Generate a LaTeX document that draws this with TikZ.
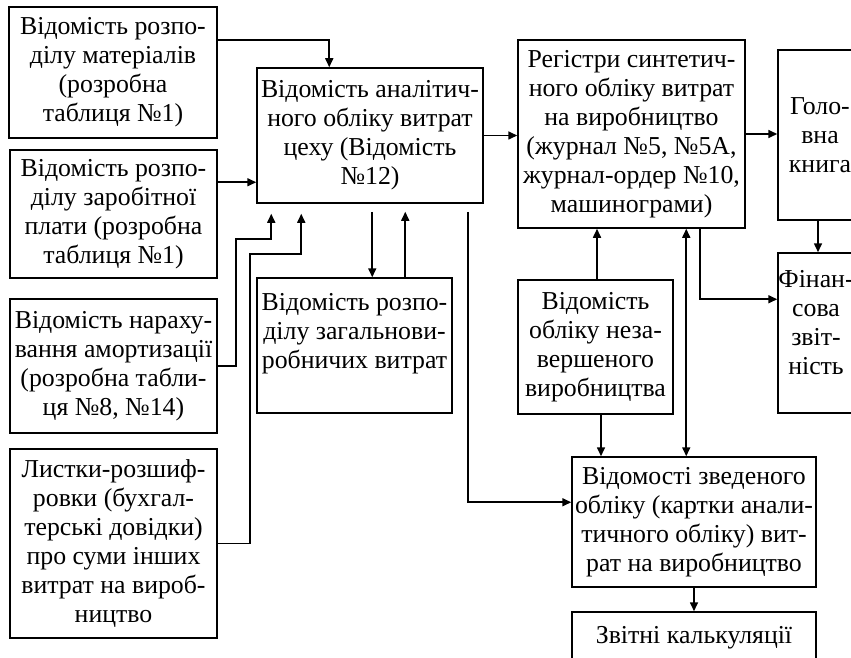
\documentclass[tikz,border=0pt]{standalone}
\usepackage{fontspec}
\setmainfont{Liberation Serif}
\usetikzlibrary{calc,arrows.meta}
\begin{document}
\begin{tikzpicture}[x=0.5pt,y=-0.5pt,
  box/.style={draw,line width=0.75pt,inner sep=0pt,align=center,
    font=\fontsize{12.9}{14.5}\selectfont},
  arr/.style={line width=0.8pt,-{Triangle[length=4.5pt,width=4pt]}},
  darr/.style={line width=0.8pt,{Triangle[length=4.5pt,width=4pt]}-{Triangle[length=4.5pt,width=4pt]}},
  ln/.style={line width=0.8pt}]
\useasboundingbox (0,0) rectangle (851,658);
\clip (0,0) rectangle (851,658);
% boxes
\node[box,minimum width=104pt,minimum height=65.5pt] (mat) at (113,72.5)
  {Відомість розпо-\\ділу матеріалів\\(розробна\\таблиця №1)};
\node[box,minimum width=103.5pt,minimum height=64pt] (wage) at (113.5,214)
  {Відомість розпо-\\ділу заробітної\\плати (розробна\\таблиця №1)};
\node[box,minimum width=103.5pt,minimum height=67pt] (amort) at (113.5,366)
  {Відомість нараху-\\вання амортизації\\(розробна табли-\\ця №8, №14)};
\node[box,minimum width=103.5pt,minimum height=94.5pt] (listky) at (113.5,543.5)
  {Листки-розшиф-\\ровки (бухгал-\\терські довідки)\\про суми інших\\витрат на вироб-\\ництво};
\node[box,minimum width=113pt,minimum height=67.5pt] (central) at (370,135.5)
  {Відомість аналітич-\\ного обліку витрат\\цеху (Відомість\\№12)};
\node[box,minimum width=97.5pt,minimum height=67.5pt] (zvr) at (354.5,345.5)
  {Відомість розпо-\\ділу загальнови-\\робничих витрат\\~};
\node[box,minimum width=113.5pt,minimum height=94pt] (reg) at (631.5,134)
  {Регістри синтетич-\\ного обліку витрат\\на виробництво\\(журнал №5, №5А,\\журнал-ордер №10,\\машинограми)};
\node[box,minimum width=42pt,minimum height=85pt] (gol) at (820,135)
  {Голо-\\вна\\книга};
\node[box,minimum width=38pt,minimum height=80pt] (fin) at (816,333)
  {Фінан-\\сова\\звіт-\\ність\\[-4pt]~};
\node[box,minimum width=77.5pt,minimum height=67pt] (nzv) at (595.5,347)
  {Відомість\\обліку неза-\\вершеного\\виробництва};
\node[box,minimum width=122pt,minimum height=65pt] (zved) at (694,522)
  {Відомості зведеного\\обліку (картки анали-\\тичного обліку) вит-\\рат на виробництво};
\node[box,minimum width=122pt,minimum height=26pt] (zvit) at (694,638)
  {Звітні калькуляції};
% connectors
\draw[arr] ($(mat.north east)+(0,34)$) -| ($(central.north west)+(73,0)$);
\draw[arr] ($(wage.north east)+(0,33)$) coordinate (w1) -- (w1 -| central.west);
\draw[arr] (amort.east) -- ++(18,0) |- ($(central.south west)+(15,35)$) -- ($(central.south west)+(15,10)$);
\draw[arr] (listky.east) -- ++(32,0) |- ($(central.south west)+(45,50)$) -- ($(central.south west)+(45,10)$);
\draw[arr] ($(central.south west)+(116,8)$) coordinate (c1) -- (c1 |- zvr.north);
\draw[arr] ($(zvr.north west)+(149,0)$) coordinate (z1) -- ($(central.south west)+(149,8)$);
\draw[arr] ($(central.south west)+(212,8)$) |- ($(zved.north west)+(0,46)$);
\draw[arr] (central.east) -- (central.east -| reg.west);
\draw[arr] (reg.east) coordinate (r1) -- (r1 -| gol.west);
\draw[arr] ($(gol.south)+(-2,0)$) coordinate (g1) -- (g1 |- fin.north);
\draw[arr] ($(reg.south west)+(183,0)$) |- ($(fin.north west)+(0,47)$);
\draw[arr] ($(nzv.north)+(1.5,0)$) coordinate (n1) -- (n1 |- reg.south);
\draw[darr] ($(reg.south west)+(169,0)$) coordinate (r2) -- (r2 |- zved.north);
\draw[arr] ($(nzv.south)+(5.5,0)$) coordinate (n2) -- (n2 |- zved.north);
\draw[arr] (zved.south) -- (zvit.north);
\end{tikzpicture}
\end{document}
